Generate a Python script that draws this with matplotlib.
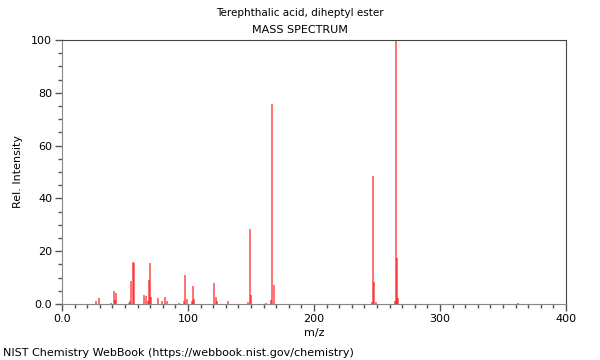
import numpy as np
import matplotlib.pyplot as plt
from matplotlib.ticker import MultipleLocator, FuncFormatter

# 质谱峰 (m/z, 相对强度)
mz = [27, 29, 39, 41, 42, 43, 53, 54, 55, 56, 57, 65, 67, 68, 69, 70, 71,
      76, 79, 82, 83, 93, 97, 98, 99, 103, 104, 105, 121, 122, 123, 132,
      148, 149, 150, 162, 166, 167, 168, 246, 247, 248, 249,
      264, 265, 266, 267, 362]
intensity = [1.1, 2.2, 0.5, 5.0, 1.5, 4.3, 0.5, 1.0, 8.7, 16.0, 15.4, 3.4, 3.0, 1.0, 9.0, 15.5, 2.5,
             2.3, 1.0, 2.5, 1.0, 0.5, 1.0, 11.1, 2.0, 1.0, 6.8, 2.0, 8.0, 2.5, 1.0, 1.2,
             0.8, 28.4, 3.4, 0.5, 1.5, 75.8, 7.2, 0.8, 48.6, 8.5, 0.8,
             1.0, 100.0, 17.3, 2.2, 0.5]

title_lines = ['Terephthalic acid, diheptyl ester', 'MASS SPECTRUM']
footer = 'NIST Chemistry WebBook (https://webbook.nist.gov/chemistry)'

fig = plt.figure(figsize=(6, 3.6), dpi=100)
ax = fig.add_axes([62 / 600, 56 / 360, 504 / 600, 264 / 360])

ax.vlines(mz, 0, intensity, colors='#ff0000', alpha=0.65, linewidth=1.2)

ax.set_xlim(0, 400)
ax.set_ylim(0, 100)

# 刻度
ax.xaxis.set_major_locator(MultipleLocator(100))
ax.xaxis.set_minor_locator(MultipleLocator(10))
ax.yaxis.set_major_locator(MultipleLocator(20))
ax.yaxis.set_minor_locator(MultipleLocator(5))
fmt = FuncFormatter(lambda v, p: '0.0' if v == 0 else '%d' % v)
ax.xaxis.set_major_formatter(fmt)
ax.yaxis.set_major_formatter(fmt)
ax.tick_params(which='major', direction='out', length=5, width=1,
               color='#555555', labelsize=8, pad=2)
ax.tick_params(which='minor', direction='out', length=3, width=1,
               color='#555555')

for s in ['left', 'bottom']:
    ax.spines[s].set_color('#888888')
for s in ['top', 'right']:
    ax.spines[s].set_color('#444444')

ax.set_xlabel('m/z', fontsize=8, labelpad=3)
ax.set_ylabel('Rel. Intensity', fontsize=8, labelpad=6)

fig.text(0.5, 1 - 13 / 360, title_lines[0], ha='center', va='center', fontsize=7.5)
fig.text(0.5, 1 - 30 / 360, title_lines[1], ha='center', va='center', fontsize=8)
fig.text(3 / 600, 1 - 353 / 360, footer, ha='left', va='center', fontsize=8)

fig.savefig('out.png', dpi=100)
